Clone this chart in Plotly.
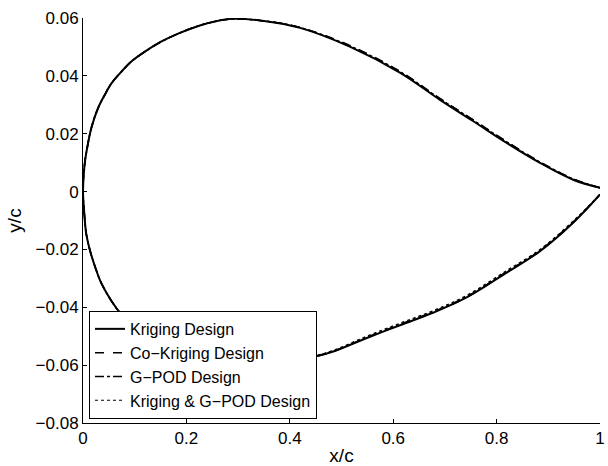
import plotly.graph_objects as go

# Upper surface (leading edge -> trailing edge)
x_upper = [0, 0.003, 0.008, 0.016, 0.029, 0.042, 0.055, 0.074, 0.093, 0.119, 0.151, 0.184, 0.219, 0.255, 0.29,
           0.35, 0.42, 0.516, 0.613, 0.6905, 0.755, 0.8195, 0.884, 0.948, 1.0]
y_upper_kriging = [0, 0.0092, 0.0150, 0.0219, 0.0288, 0.0334, 0.0374, 0.0414, 0.0449, 0.0483, 0.0518, 0.0546, 0.0570, 0.0588, 0.0597,
                   0.0590, 0.0566, 0.0501, 0.0411, 0.0317, 0.0243, 0.0168, 0.0099, 0.0041, 0.0013]
y_upper_cokriging = [0, 0.0092, 0.0150, 0.0219, 0.0288, 0.0334, 0.0374, 0.0414, 0.0449, 0.0483, 0.0518, 0.0546, 0.0570, 0.0588, 0.0597,
                     0.0590, 0.0567, 0.0505, 0.0416, 0.0322, 0.0248, 0.0173, 0.0103, 0.0044, 0.0013]
y_upper_gpod = [0, 0.0092, 0.0150, 0.0219, 0.0288, 0.0334, 0.0374, 0.0414, 0.0449, 0.0483, 0.0518, 0.0546, 0.0570, 0.0588, 0.0597,
                0.0590, 0.0567, 0.0503, 0.0414, 0.0320, 0.0246, 0.0171, 0.0101, 0.0043, 0.0013]
y_upper_kg = [0, 0.0092, 0.0150, 0.0219, 0.0288, 0.0334, 0.0374, 0.0414, 0.0449, 0.0483, 0.0518, 0.0546, 0.0570, 0.0588, 0.0597,
              0.0590, 0.0567, 0.0504, 0.0415, 0.0321, 0.0247, 0.0172, 0.0102, 0.0044, 0.0013]

# Lower surface (leading edge -> trailing edge)
x_lower = [0, 0.002, 0.006, 0.013, 0.023, 0.035, 0.055, 0.074, 0.106, 0.15, 0.2, 0.25, 0.3, 0.35, 0.4, 0.45, 0.484,
           0.549, 0.613, 0.678, 0.742, 0.8195, 0.884, 0.948, 1.0]
y_lower_kriging = [0, -0.0062, -0.0143, -0.0200, -0.0258, -0.0315, -0.0378, -0.0424, -0.0482, -0.0535, -0.0575, -0.0598,
                   -0.0606, -0.0603, -0.0590, -0.0570, -0.0553, -0.0506, -0.0462, -0.0418, -0.0366, -0.0280, -0.0206, -0.0108, -0.0010]
y_lower_cokriging = [0, -0.0062, -0.0143, -0.0200, -0.0258, -0.0315, -0.0378, -0.0424, -0.0482, -0.0535, -0.0575, -0.0598,
                     -0.0606, -0.0603, -0.0590, -0.0570, -0.0553, -0.0505, -0.0461, -0.0417, -0.0365, -0.0279, -0.0205, -0.0107, -0.0010]
y_lower_gpod = [0, -0.0062, -0.0143, -0.0200, -0.0258, -0.0315, -0.0378, -0.0424, -0.0482, -0.0535, -0.0575, -0.0598,
                -0.0606, -0.0603, -0.0590, -0.0569, -0.0552, -0.0504, -0.0459, -0.0415, -0.0363, -0.0277, -0.0203, -0.0105, -0.0010]
y_lower_kg = [0, -0.0062, -0.0143, -0.0200, -0.0258, -0.0315, -0.0378, -0.0424, -0.0482, -0.0535, -0.0575, -0.0598,
              -0.0606, -0.0603, -0.0589, -0.0567, -0.0549, -0.0500, -0.0455, -0.0411, -0.0359, -0.0273, -0.0200, -0.0102, -0.0010]

names = ["Kriging Design", "Co\u2212Kriging Design", "G\u2212POD Design", "Kriging & G\u2212POD Design"]
dashes = ["solid", "dash", "dashdot", "dot"]
widths = [2, 1.5, 1.5, 1.2]
uppers = [y_upper_kriging, y_upper_cokriging, y_upper_gpod, y_upper_kg]
lowers = [y_lower_kriging, y_lower_cokriging, y_lower_gpod, y_lower_kg]

x_ticks = [0, 0.2, 0.4, 0.6, 0.8, 1]
x_ticktext = ["0", "0.2", "0.4", "0.6", "0.8", "1"]
y_ticks = [-0.08, -0.06, -0.04, -0.02, 0, 0.02, 0.04, 0.06]
y_ticktext = ["\u22120.08", "\u22120.06", "\u22120.04", "\u22120.02", "0", "0.02", "0.04", "0.06"]

fig = go.Figure()
for name, dash, w, yu, yl in zip(names, dashes, widths, uppers, lowers):
    xs = list(reversed(x_upper)) + x_lower[1:]
    ys = list(reversed(yu)) + yl[1:]
    fig.add_trace(go.Scatter(x=xs, y=ys, mode="lines", name=name,
                             line=dict(color="black", width=w, dash=dash, shape="spline", smoothing=1.0)))

font = "Liberation Sans, Arial, Helvetica, sans-serif"
fig.update_layout(
    width=608, height=466,
    margin=dict(l=83, r=8, t=18, b=43),
    paper_bgcolor="white", plot_bgcolor="white",
    font=dict(family=font, size=17, color="black"),
    showlegend=True,
    legend=dict(x=0.0116, y=0.01, xanchor="left", yanchor="bottom",
                bgcolor="white", bordercolor="black", borderwidth=1,
                font=dict(size=16, color="black"), tracegroupgap=0),
    xaxis=dict(range=[0, 1], tickvals=x_ticks, ticktext=x_ticktext,
               ticks="inside", ticklen=4, tickcolor="black",
               showline=True, linecolor="black", linewidth=1, mirror=False,
               showgrid=False, zeroline=False, automargin=False,
               title=dict(text="x/c", font=dict(size=19), standoff=2)),
    yaxis=dict(range=[-0.08, 0.06], tickvals=y_ticks, ticktext=y_ticktext,
               ticks="inside", ticklen=4, tickcolor="black",
               showline=True, linecolor="black", linewidth=1, mirror=False,
               showgrid=False, zeroline=False, automargin=False,
               title=dict(text="y/c", font=dict(size=19), standoff=8)),
)

fig.write_html("out.html")
